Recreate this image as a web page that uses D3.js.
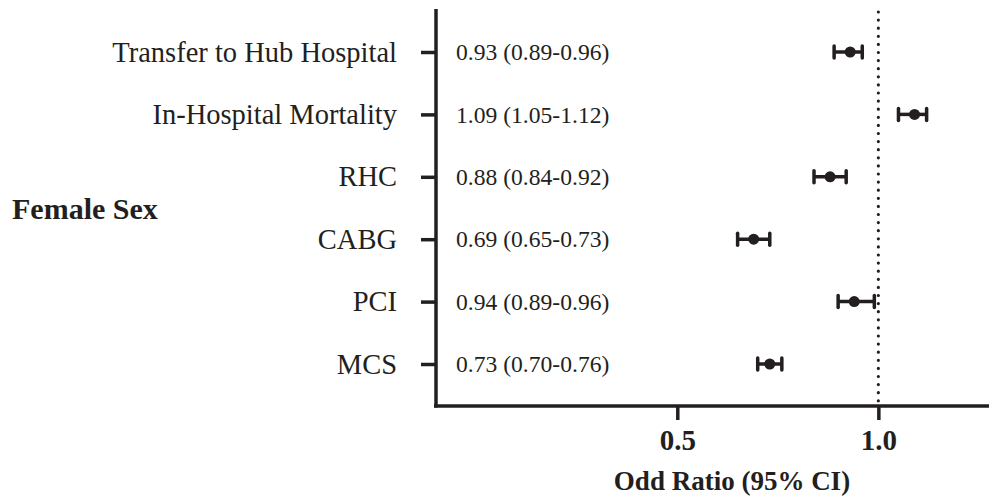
<!DOCTYPE html>
<html>
<head>
<meta charset="utf-8">
<script src="https://cdn.jsdelivr.net/npm/d3@7"></script>
<style>
  body { margin: 0; background: #fff; }
  svg { display: block; }
  text { fill: #231f20; }
</style>
</head>
<body>
<svg width="989" height="498"></svg>
<script>
const outcomes = ["Transfer to Hub Hospital", "In-Hospital Mortality", "RHC", "CABG", "PCI", "MCS"];
const oddRatio = [0.93, 1.09, 0.88, 0.69, 0.94, 0.73];
const lowerCI = [0.89, 1.05, 0.84, 0.65, 0.90, 0.70];
const upperCI = [0.96, 1.12, 0.92, 0.73, 0.99, 0.76];
const ciLabels = ["0.93 (0.89-0.96)", "1.09 (1.05-1.12)", "0.88 (0.84-0.92)",
  "0.69 (0.65-0.73)", "0.94 (0.89-0.96)", "0.73 (0.70-0.76)"];
const xTicks = [0.5, 1.0];

var svg = d3.select("svg"),
  ink = "#231f20",
  serif = "'Liberation Serif', 'Times New Roman', serif";

var x = d3.scaleLinear()
  .domain([-0.1, 1.3])
  .range([436, 999]);

var y = d3.scalePoint()
  .domain(outcomes)
  .range([52, 364]);

var rows = outcomes.map((d, i) => ({
  name: d, or: oddRatio[i], lo: lowerCI[i], hi: upperCI[i], label: ciLabels[i]
}));

// reference line at OR = 1
svg.append("line")
  .attr("x1", x(1)).attr("x2", x(1))
  .attr("y1", 12).attr("y2", 404)
  .attr("stroke", ink)
  .attr("stroke-width", 3.2)
  .attr("stroke-linecap", "round")
  .attr("stroke-dasharray", "0 8.1");

// x axis
var xAxis = svg.append("g")
  .attr("transform", "translate(0,406)")
  .call(d3.axisBottom(x).tickValues(xTicks).tickSize(14).tickPadding(9)
    .tickFormat(d3.format(".1f")));
xAxis.select(".domain").remove();
xAxis.append("line")
  .attr("x1", 434).attr("x2", 989)
  .attr("stroke", ink).attr("stroke-width", 3.5);
xAxis.selectAll(".tick line").attr("stroke", ink).attr("stroke-width", 3.5);
xAxis.selectAll(".tick text")
  .attr("fill", ink)
  .style("font-family", serif)
  .style("font-weight", "bold")
  .style("font-size", "29px");

// y axis
var yAxis = svg.append("g")
  .attr("transform", "translate(436,0)")
  .call(d3.axisLeft(y).tickSize(15).tickPadding(24));
yAxis.select(".domain").remove();
yAxis.append("line")
  .attr("y1", 9).attr("y2", 407.5)
  .attr("stroke", ink).attr("stroke-width", 3.5);
yAxis.selectAll(".tick line").attr("stroke", ink).attr("stroke-width", 3.5);
yAxis.selectAll(".tick text")
  .attr("fill", ink)
  .style("font-family", serif)
  .style("font-size", "28.5px");

// CI text next to the axis
svg.selectAll(".ci-label")
  .data(rows)
  .enter()
  .append("text")
  .attr("class", "ci-label")
  .attr("x", 456)
  .attr("y", d => y(d.name))
  .attr("dy", "0.35em")
  .style("font-family", serif)
  .style("font-size", "23.6px")
  .text(d => d.label);

// error bars
var bars = svg.selectAll(".bar")
  .data(rows)
  .enter()
  .append("g")
  .attr("class", "bar")
  .attr("stroke", ink)
  .attr("fill", ink);

bars.append("line")
  .attr("x1", d => x(d.lo)).attr("x2", d => x(d.hi))
  .attr("y1", d => y(d.name)).attr("y2", d => y(d.name))
  .attr("stroke-width", 3.5);

bars.append("line")
  .attr("x1", d => x(d.lo)).attr("x2", d => x(d.lo))
  .attr("y1", d => y(d.name) - 6).attr("y2", d => y(d.name) + 6)
  .attr("stroke-width", 3.5)
  .attr("stroke-linecap", "round");

bars.append("line")
  .attr("x1", d => x(d.hi)).attr("x2", d => x(d.hi))
  .attr("y1", d => y(d.name) - 6).attr("y2", d => y(d.name) + 6)
  .attr("stroke-width", 3.5)
  .attr("stroke-linecap", "round");

bars.append("circle")
  .attr("cx", d => x(d.or))
  .attr("cy", d => y(d.name))
  .attr("r", 5.5)
  .attr("stroke", "none");

// group label
svg.append("text")
  .attr("x", 12)
  .attr("y", 208)
  .attr("dy", "0.35em")
  .style("font-family", serif)
  .style("font-weight", "bold")
  .style("font-size", "30px")
  .text("Female Sex");

// axis title
svg.append("text")
  .attr("x", 732)
  .attr("y", 490)
  .attr("text-anchor", "middle")
  .style("font-family", serif)
  .style("font-weight", "bold")
  .style("font-size", "27px")
  .text("Odd Ratio (95% CI)");
</script>
</body>
</html>
